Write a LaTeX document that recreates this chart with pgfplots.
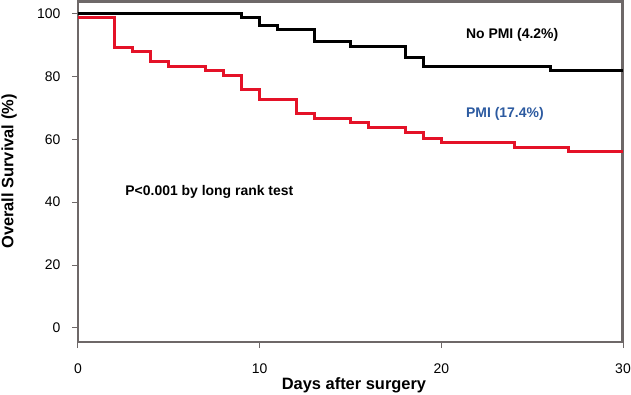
\documentclass[border=0pt]{standalone}
\usepackage{pgfplots}
\pgfplotsset{compat=1.18}
\usepackage{fontspec}
\setmainfont{Liberation Sans}
\definecolor{kmred}{RGB}{228,18,40}
\definecolor{kmblue}{RGB}{44,90,160}
\definecolor{axgray}{RGB}{110,104,104}
\begin{document}
\begin{tikzpicture}
\draw[axgray, line width=1.5bp] (0bp,340bp) -- (544bp,340bp) -- (544bp,0bp);
\begin{axis}[
  name=ax, at={(0,0)}, anchor=south west,
  scale only axis, width=545bp, height=341bp,
  xmin=0, xmax=30, ymin=-4.5, ymax=104,
  xtick={0,10,20,30}, ytick={0,20,40,60,80,100},
  xtick pos=bottom, ytick pos=left,
  tick align=outside,
  major tick length=6bp,
  axis line style={draw=axgray, line width=1.2bp},
  every tick/.style={draw=axgray, line width=1bp},
  /pgf/number format/assume math mode=true,
  every tick label/.append style={font=\fontsize{14}{16}\selectfont},
  xticklabel style={yshift=-12bp},
  yticklabel style={xshift=-8bp},
  xlabel={Days after surgery}, ylabel={Overall Survival (\%)},
  label style={font=\bfseries\fontsize{16.5}{18}\selectfont},
  xlabel style={at={(axis description cs:0.5064,-0.127)}, anchor=center},
  ylabel style={at={(axis description cs:-0.1266,0.5)}, anchor=center},
]
\addplot[const plot, black, line width=3bp] coordinates {
 (0,100) (9,98.9) (10,96.3) (11,94.9) (13,91.0) (15,89.6) (18,85.9) (19,83.0) (26,81.8) (30,81.8)};
\addplot[const plot, kmred, line width=3bp] coordinates {
 (0,98.7) (2,89.3) (3,88.0) (4,84.8) (5,83.3) (7,81.8) (8,80.3) (9,75.8) (10,72.8) (12,68.2) (13,66.6) (15,65.2) (16,63.6) (18,62.0) (19,60.4) (20,59.0) (24,57.4) (27,56.0) (30,56.0)};
\node[font=\bfseries\fontsize{14}{16}\selectfont] at (axis cs:23.9,93.3) {No PMI (4.2\%)};
\node[font=\bfseries\fontsize{14}{16}\selectfont, text=kmblue] at (axis cs:23.5,68.2) {PMI (17.4\%)};
\node[font=\bfseries\fontsize{14}{16}\selectfont, anchor=west, inner sep=0pt] at (axis cs:2.6,43.4) {P<0.001 by long rank test};
\end{axis}
\pgfresetboundingbox
\path[use as bounding box] (-78bp,-53bp) rectangle (553bp,342bp);
\end{tikzpicture}
\end{document}
